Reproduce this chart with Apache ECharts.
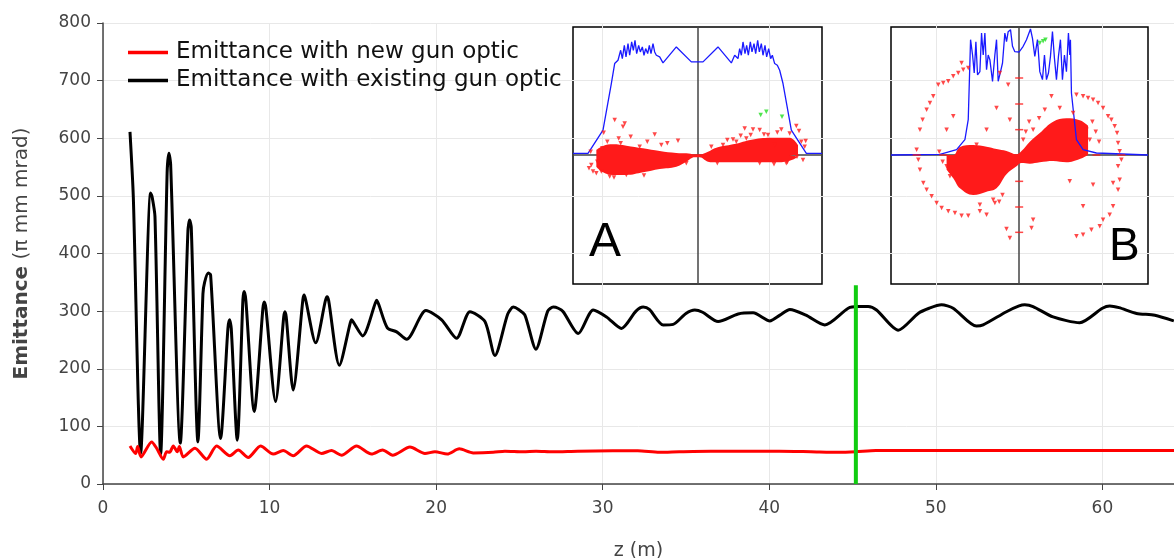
<!DOCTYPE html>
<html>
<head>
<meta charset="utf-8">
<script src="https://cdn.jsdelivr.net/npm/echarts@6/dist/echarts.min.js"></script>
<style>html,body{margin:0;padding:0;background:#fff}#main{width:1174px;height:558px}</style>
</head>
<body>
<div id="main"></div>
<script>
// emittance along the line, [z (m), emittance]
var existingOptic = [[1.62,611],[1.82,498],[2.26,54],[2.86,505],[2.95,498],[3.12,464],[3.46,52],[3.85,540],[3.96,574],[4.06,555],[4.64,71],[5.1,440],[5.2,458],[5.3,445],[5.7,73],[6.0,330],[6.1,350],[6.32,366],[6.46,363],[7.06,79],[7.5,270],[7.6,285],[7.7,270],[8.06,76],[8.4,320],[8.48,334],[8.58,318],[9.08,126],[9.6,305],[9.68,316],[9.78,305],[10.36,143],[10.85,290],[10.92,299],[11.0,290],[11.42,163],[12.0,320],[12.08,328],[12.18,318],[12.77,245],[13.35,318],[13.45,325],[13.55,318],[14.19,206],[14.85,280],[14.93,285],[15.05,280],[15.59,257],[16.35,314],[16.43,319],[16.55,312],[17.07,271],[17.63,264],[18.23,251],[19.39,301],[20.33,285],[21.23,253],[22.03,299],[22.93,282],[23.53,223],[24.3,295],[24.63,307],[24.95,303],[25.33,293],[25.99,234],[26.7,300],[27.03,307],[27.33,305],[27.63,299],[28.53,261],[29.43,302],[30.23,290],[31.13,270],[32.0,300],[32.43,307],[32.8,303],[33.63,276],[34.23,277],[35.0,296],[35.53,302],[36.0,298],[36.93,282],[38.13,295],[39.03,297],[40.04,283],[40.64,293],[41.24,303],[42.2,293],[43.34,276],[44.74,305],[45.3,308],[45.94,308],[46.44,302],[47.74,267],[48.94,296],[49.6,305],[50.34,311],[51.04,305],[52.44,274],[52.84,276],[54.24,299],[55.0,309],[55.34,311],[55.84,308],[57.04,290],[58.64,280],[60.0,305],[60.44,309],[61.0,306],[62.05,296],[63.15,293],[64.29,283]];
var newOptic = [[1.62,66],[1.96,53],[2.08,65],[2.28,47],[2.92,73],[3.22,62],[3.62,43],[3.82,56],[4.0,55],[4.22,66],[4.46,56],[4.58,65],[4.82,47],[5.52,62],[6.22,43],[6.82,66],[7.62,49],[8.12,59],[8.72,46],[9.46,66],[10.22,52],[10.82,58],[11.42,49],[12.22,66],[13.12,53],[13.72,58],[14.32,50],[15.22,66],[16.12,52],[16.78,59],[17.39,50],[18.43,64],[19.33,53],[19.93,56],[20.67,52],[21.39,61],[22.23,54],[23.43,55],[24.13,57],[25.23,56],[26.0,57],[27.0,56],[28.5,57],[30.6,57.5],[32.1,57.5],[33.4,55],[34.6,56],[36.5,57],[38.5,57],[40.6,57],[42.5,56],[44.2,55],[45.2,56],[46.4,58],[50,58],[55,58],[60,58],[64.3,58]];
var marker = [[45.2,0],[45.2,345]];

// inset A (phase space, arbitrary units)
var profileA = [[-373,5],[-328,5],[-283,75],[-258,215],[-248,275],[-238,285],[-230,315],[-225,290],[-219,330],[-214,295],[-208,335],[-203,300],[-197,340],[-192,315],[-187,345],[-182,305],[-176,330],[-171,310],[-165,325],[-160,300],[-155,320],[-149,305],[-144,330],[-139,305],[-133,335],[-128,310],[-123,300],[-113,295],[-103,277],[-63,325],[-18,280],[17,280],[62,325],[102,277],[112,300],[122,290],[127,320],[132,300],[137,340],[143,305],[148,330],[153,300],[159,340],[164,310],[170,335],[175,305],[181,345],[186,310],[192,335],[197,300],[203,330],[208,295],[214,320],[220,290],[225,300],[232,275],[240,270],[247,255],[257,215],[282,75],[327,5],[374,5]];
var cloudAX = [-303,-283,-253,-213,-163,-113,-63,-33,-8,7,32,57,107,167,227,277,302];
var cloudALow = [-35,-52,-60,-60,-52,-42,-35,-20,-7,-7,-20,-22,-22,-22,-22,-17,-5];
var cloudAHigh = [15,27,32,28,20,12,6,5,2,2,10,22,32,47,52,52,30];
var strayA = [[-248,105],[-223,85],[-218,95],[-236,50],[-200,55],[-128,62],[-58,43],[-108,30],[-173,25],[-318,-30],[-325,-40],[-313,-50],[-303,-55],[-288,-50],[-281,67],[-285,20],[142,80],[167,77],[107,47],[187,75],[212,60],[252,77],[277,65],[297,87],[305,72],[312,40],[325,42],[322,25],[317,-15],[299,-5],[232,30],[117,40],[147,50],[77,30],[42,25],[-263,-65],[-213,-60],[-33,-25],[187,-25],[267,-25],[-150,40],[-90,35],[-230,35],[-270,40],[-320,10],[-300,-20],[90,45],[200,62],[240,68],[160,60],[130,58],[270,-22],[230,-28],[60,-25],[-160,-62],[-250,-68]];
var greenA = [[190,120],[207,130],[254,115]];

// inset B
var profileB = [[-385,0],[-238,2],[-188,16],[-163,46],[-153,106],[-146,346],[-140,300],[-135,246],[-130,340],[-125,240],[-118,250],[-113,366],[-108,300],[-103,366],[-98,256],[-93,300],[-88,286],[-80,221],[-73,300],[-68,346],[-63,221],[-56,250],[-50,276],[-43,366],[-38,340],[-33,370],[-26,376],[-20,326],[-13,310],[0,309],[12,326],[22,346],[34,378],[40,350],[47,296],[55,346],[62,250],[70,226],[76,300],[82,226],[88,246],[94,296],[100,370],[106,290],[112,226],[118,296],[124,346],[130,226],[136,300],[142,250],[148,366],[152,300],[154,346],[157,186],[172,46],[192,16],[232,6],[387,0]];
var cloudBX = [-218,-198,-178,-138,-98,-68,-38,-8,7,32,62,102,142,182,207];
var cloudBLow = [-44,-70,-100,-120,-110,-100,-58,-34,-24,-26,-22,-18,-22,-12,0];
var cloudBHigh = [0,0,24,30,25,18,12,2,12,40,66,100,110,104,88];
var strayB = [[-308,16],[-303,-14],[-298,-44],[-288,-84],[-278,-104],[-263,-124],[-248,-144],[-233,-159],[-213,-169],[-193,-174],[-173,-182],[-153,-182],[-118,-169],[-98,-179],[-73,-144],[-38,-222],[-28,-249],[37,-219],[42,-194],[172,-244],[192,-239],[217,-224],[242,-214],[252,-194],[272,-179],[282,-154],[297,-104],[302,-74],[297,-34],[307,-14],[302,11],[297,36],[294,66],[287,86],[277,106],[267,116],[252,141],[237,156],[222,166],[207,171],[192,176],[172,181],[-298,76],[-290,106],[-278,136],[-268,156],[-258,176],[-243,211],[-228,216],[-213,221],[-198,236],[-183,246],[-168,256],[-153,261],[-173,276],[-33,211],[-28,106],[-68,141],[-98,76],[-128,31],[-218,76],[-198,116],[-58,246],[12,46],[42,76],[77,136],[97,176],[122,141],[162,126],[152,-79],[222,-89],[192,-154],[282,-84],[-218,-34],[-208,-64],[-78,-134],[-118,-149],[202,76],[212,46],[-230,-20],[-240,10],[-60,-140],[-50,-120],[20,70],[30,100],[60,110],[220,100],[230,70],[240,40]];
var ticksB = [[0,231],[0,153],[0,76],[0,-79],[0,-156],[0,-232],[-308,0],[-228,0],[232,0],[307,0]];
var greenB = [[62,336],[72,341],[79,346]];

function pairs(xs, ys) {
  return xs.map(function (x, i) { return [x, ys[i]]; });
}

var myChart = echarts.init(document.getElementById('main'));

var gridLine = {show: true, lineStyle: {color: '#e8e8e8', width: 1}};
var axisDark = {show: true, onZero: false, lineStyle: {color: '#444', width: 1.5}};

function insetAxis(idx, mn, mx) {
  return {type: 'value', gridIndex: idx, min: mn, max: mx,
    axisLine: {show: true, onZero: true, lineStyle: {color: '#444', width: 1.5}},
    axisTick: {show: false}, axisLabel: {show: false}, splitLine: {show: false}};
}

// dense core of the particle cloud: upper and lower edge, each filled to the centre line
function cloud(idx, xs, lo, hi) {
  return [lo, hi].map(function (edge) {
    return {type: 'line', xAxisIndex: idx, yAxisIndex: idx, data: pairs(xs, edge), symbol: 'none',
      smooth: 0.4, lineStyle: {width: 0}, areaStyle: {color: '#ff1a1a', opacity: 1}, silent: true, z: 3};
  });
}

function dots(idx, data, color, symbol, size) {
  return {type: 'scatter', xAxisIndex: idx, yAxisIndex: idx, data: data, symbol: symbol || 'triangle',
    symbolRotate: symbol ? 0 : 180, symbolSize: size || 4.5, itemStyle: {color: color}, silent: true, z: 4};
}

var option = {
  animation: false,
  textStyle: {fontFamily: 'DejaVu Sans'},
  legend: {
    data: ['Emittance with new gun optic', 'Emittance with existing gun optic'],
    orient: 'vertical', left: 128, top: 41, padding: 0, icon: 'rect', itemWidth: 40, itemHeight: 3.5, itemGap: 5,
    textStyle: {fontSize: 23, color: '#111', fontFamily: 'DejaVu Sans', padding: [0, 0, 0, 3]}
  },
  grid: [
    {left: 103, top: 23, right: 0, bottom: 74, show: false, outerBoundsMode: 'none', containLabel: false},
    {left: 573, top: 27, width: 249, height: 257, show: true, borderColor: '#000', borderWidth: 1.5, backgroundColor: 'transparent', outerBoundsMode: 'none'},
    {left: 891, top: 27, width: 257, height: 257, show: true, borderColor: '#000', borderWidth: 1.5, backgroundColor: 'transparent', outerBoundsMode: 'none'}
  ],
  xAxis: [
    {type: 'value', gridIndex: 0, min: 0, max: 64.3, interval: 10,
      name: 'z (m)', nameLocation: 'middle', nameGap: 58,
      nameTextStyle: {fontSize: 19, color: '#444'},
      axisLine: axisDark, axisTick: {show: true, length: 6, lineStyle: {color: '#444'}},
      axisLabel: {fontSize: 17, color: '#444', margin: 16, showMaxLabel: false}, splitLine: gridLine},
    insetAxis(1, -373, 374),
    insetAxis(2, -385, 387)
  ],
  yAxis: [
    {type: 'value', gridIndex: 0, min: 0, max: 800, interval: 100,
      name: '{b|Emittance} (π mm mrad)', nameLocation: 'middle', nameGap: 71,
      nameTextStyle: {fontSize: 20, color: '#444', rich: {b: {fontSize: 20, fontWeight: 'bold', color: '#444', fontFamily: 'DejaVu Sans'}}},
      axisLine: axisDark, axisTick: {show: true, length: 6, lineStyle: {color: '#444'}},
      axisLabel: {fontSize: 17, color: '#444', margin: 12}, splitLine: gridLine},
    insetAxis(1, -388, 385),
    insetAxis(2, -387, 384)
  ],
  graphic: [
    {type: 'text', left: 589, top: 219, style: {text: 'A', font: '48px "Liberation Sans"', fill: '#000'}, z: 10},
    {type: 'text', left: 1109, top: 224, style: {text: 'B', font: '46px "Liberation Sans"', fill: '#000'}, z: 10}
  ],
  series: [
    {name: 'Emittance with existing gun optic', type: 'line', data: existingOptic, symbol: 'none',
      smooth: 0.25, lineStyle: {color: '#000', width: 3}, itemStyle: {color: '#000'}, z: 2},
    {name: 'Emittance with new gun optic', type: 'line', data: newOptic, symbol: 'none',
      smooth: 0.25, lineStyle: {color: '#ff0000', width: 3}, itemStyle: {color: '#ff0000'}, z: 2},
    {type: 'line', data: marker, symbol: 'none', lineStyle: {color: '#11cc11', width: 4}, silent: true, z: 5},

    {type: 'line', xAxisIndex: 1, yAxisIndex: 1, data: profileA, symbol: 'none', lineStyle: {color: '#1a1aff', width: 1.3}, z: 3},
    dots(1, strayA, '#ff1a1a'),
    dots(1, greenA, '#22dd22'),

    {type: 'line', xAxisIndex: 2, yAxisIndex: 2, data: profileB, symbol: 'none', lineStyle: {color: '#1a1aff', width: 1.3}, z: 3},
    dots(2, strayB, '#ff1a1a'),
    dots(2, ticksB, '#ff1a1a', 'rect', [8, 1.5]),
    dots(2, greenB, '#22dd22')
  ].concat(cloud(1, cloudAX, cloudALow, cloudAHigh), cloud(2, cloudBX, cloudBLow, cloudBHigh))
};

myChart.setOption(option);
</script>
</body>
</html>
